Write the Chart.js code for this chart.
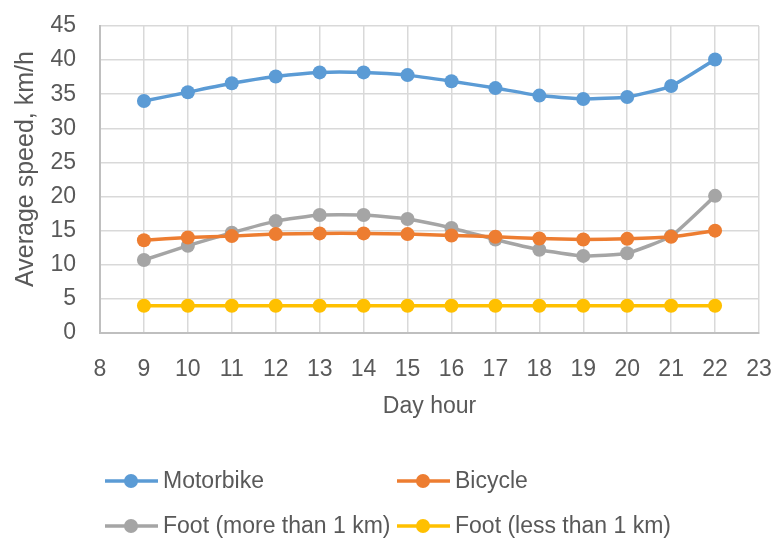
<!DOCTYPE html>
<html lang="en">
<head>
    <meta charset="UTF-8">
    <title>Average speed by day hour</title>
    <script src="https://cdn.jsdelivr.net/npm/chart.js"></script>
    <style>
        body { margin: 0; background: #fff; }
        #wrap { width: 775px; height: 538px; }
    </style>
</head>
<body>
    <div id="wrap"><canvas id="speedChart" width="775" height="538"></canvas></div>

    <script>
        // data
        const hours = [9, 10, 11, 12, 13, 14, 15, 16, 17, 18, 19, 20, 21, 22];
        const motorbike = [34.0, 35.3, 36.6, 37.6, 38.2, 38.2, 37.8, 36.9, 35.9, 34.8, 34.3, 34.6, 36.2, 40.1];
        const bicycle = [13.6, 14.0, 14.2, 14.5, 14.6, 14.6, 14.5, 14.3, 14.1, 13.85, 13.7, 13.8, 14.1, 15.0];
        const footMore = [10.7, 12.8, 14.7, 16.4, 17.3, 17.3, 16.7, 15.4, 13.7, 12.2, 11.3, 11.7, 14.2, 20.1];
        const footLess = [4, 4, 4, 4, 4, 4, 4, 4, 4, 4, 4, 4, 4, 4];
        const seriesNames = ['Motorbike', 'Bicycle', 'Foot (more than 1 km)', 'Foot (less than 1 km)'];
        const seriesColors = ['#5B9BD5', '#ED7D31', '#A5A5A5', '#FFC000'];
        const yTitle = 'Average speed, km/h';

        const FONT = "'Liberation Sans', Arial, sans-serif";
        const TEXT = '#595959';

        function pts(vals) {
            return hours.map((h, i) => ({ x: h, y: vals[i] }));
        }

        const allSeries = [motorbike, bicycle, footMore, footLess];
        const datasets = allSeries.map((vals, i) => ({
            label: seriesNames[i],
            data: pts(vals),
            borderColor: seriesColors[i],
            backgroundColor: seriesColors[i],
            borderWidth: 3.5,
            pointRadius: 7,
            pointHoverRadius: 7,
            pointBorderWidth: 0,
            tension: 0.15
        }));

        // legend in two columns under the plot, like the original
        const legendSpots = [
            { x: 105, y: 481 }, { x: 397, y: 481 },
            { x: 105, y: 526 }, { x: 397, y: 526 }
        ];
        const extras = {
            id: 'extras',
            afterDraw(chart) {
                const ctx = chart.ctx;
                ctx.save();
                chart.data.datasets.forEach((ds, i) => {
                    const p = legendSpots[i];
                    ctx.strokeStyle = ds.borderColor;
                    ctx.lineWidth = 3.5;
                    ctx.beginPath();
                    ctx.moveTo(p.x, p.y);
                    ctx.lineTo(p.x + 53, p.y);
                    ctx.stroke();
                    ctx.fillStyle = ds.backgroundColor;
                    ctx.beginPath();
                    ctx.arc(p.x + 26, p.y, 7, 0, Math.PI * 2);
                    ctx.fill();
                    ctx.fillStyle = TEXT;
                    ctx.font = '23px ' + FONT;
                    ctx.textBaseline = 'middle';
                    ctx.fillText(ds.label, p.x + 58, p.y + 1);
                });
                // y axis title, sits a little above the plot middle in the original
                ctx.translate(26, 169);
                ctx.rotate(-Math.PI / 2);
                ctx.font = '25px ' + FONT;
                ctx.fillStyle = TEXT;
                ctx.textAlign = 'center';
                ctx.textBaseline = 'middle';
                ctx.fillText(yTitle, 0, 0);
                ctx.restore();
            }
        };

        new Chart(document.getElementById('speedChart'), {
            type: 'line',
            data: { datasets: datasets },
            options: {
                responsive: false,
                animation: false,
                layout: { padding: { top: 26, right: 16, bottom: 105, left: 0 } },
                plugins: {
                    legend: { display: false },
                    tooltip: { enabled: false }
                },
                scales: {
                    x: {
                        type: 'linear',
                        min: 8,
                        max: 23,
                        afterFit: s => { s.height = 100; s.paddingLeft = 0; s.paddingRight = 0; },
                        ticks: { stepSize: 1, color: TEXT, font: { family: FONT, size: 23 }, padding: 23 },
                        grid: { color: '#D9D9D9', lineWidth: 1.5, drawTicks: false },
                        border: { color: '#BFBFBF', width: 2 },
                        title: { display: true, text: 'Day hour', color: TEXT, font: { family: FONT, size: 23 }, padding: { top: 0, bottom: 13 } }
                    },
                    y: {
                        min: 0,
                        max: 45,
                        afterFit: s => { s.width = 100; s.paddingTop = 0; s.paddingBottom = 0; },
                        ticks: { stepSize: 5, color: TEXT, font: { family: FONT, size: 23 }, padding: 24 },
                        grid: { color: '#D9D9D9', lineWidth: 1.5, drawTicks: false },
                        border: { color: '#BFBFBF', width: 2 }
                    }
                }
            },
            plugins: [extras]
        });
    </script>
</body>
</html>
